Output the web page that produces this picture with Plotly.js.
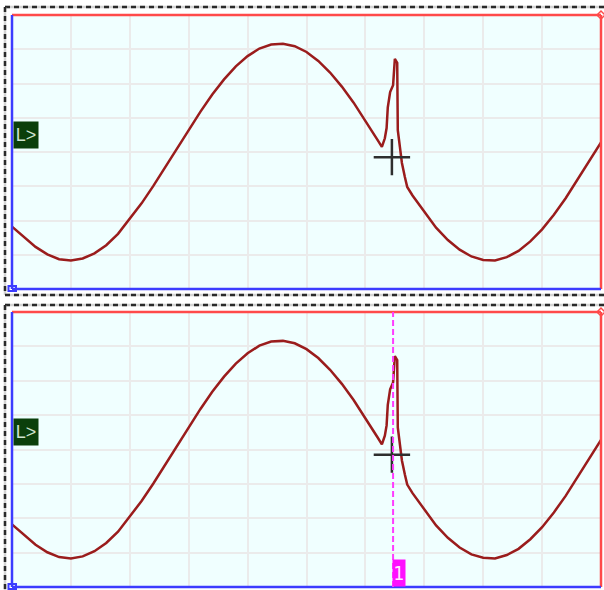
<!DOCTYPE html>
<html>
<head>
<meta charset="utf-8">
<script src="https://cdn.plot.ly/plotly-3.0.1.min.js"></script>
<style>html,body{margin:0;padding:0;background:#fff;}#chart{width:604px;height:590px;}</style>
</head>
<body>
<div id="chart"></div>
<script>
// ---- data (time in divisions, signal in divisions) ----
const timeDiv = [0,0.2,0.4,0.6,0.8,1.0,1.2,1.4,1.6,1.8,2.0,2.2,2.4,2.6,2.8,3.0,3.2,3.4,3.6,3.8,4.0,4.2,4.4,4.6,4.8,5.0,5.2,5.4,5.6,5.8,6.0,6.2,
  6.28,6.33,6.36,6.38,6.42,6.47,6.50,6.54,6.55,6.59,6.62,6.67,6.71,
  6.8,7.0,7.2,7.4,7.6,7.8,8.0,8.2,8.4,8.6,8.8,9.0,9.2,9.4,9.6,9.8,10.0];
const signalDiv = [-2.18,-2.47,-2.77,-2.99,-3.13,-3.17,-3.11,-2.96,-2.72,-2.39,-1.96,-1.50,-0.99,-0.45,0.10,0.65,1.18,1.68,2.12,2.50,2.80,3.02,3.14,3.16,3.09,2.92,2.66,2.32,1.91,1.44,0.92,0.37,
  0.15,0.40,0.70,1.30,1.75,1.95,2.72,2.60,0.64,0.06,-0.32,-0.73,-1.02,
  -1.27,-1.75,-2.21,-2.57,-2.85,-3.05,-3.15,-3.17,-3.07,-2.89,-2.61,-2.26,-1.83,-1.35,-0.82,-0.27,0.28];
const cursorTime = [6.45];
const cursorLevel = [-0.15];
const markerTime = [6.47];
const markerLabel = ["1"];
const levelValue = [0.5];
const levelLabel = ["L&gt;"];

// ---- geometry helpers (pixel -> paper) ----
const W = 604, H = 590;
const px = v => v / W;
const py = v => 1 - v / H;

const traceColor = '#9a1c1c';
const traces = [
  {x: timeDiv, y: signalDiv, xaxis: 'x', yaxis: 'y', mode: 'lines', line: {color: traceColor, width: 2.5}, hoverinfo: 'skip'},
  {x: timeDiv, y: signalDiv, xaxis: 'x2', yaxis: 'y2', mode: 'lines', line: {color: traceColor, width: 2.5}, hoverinfo: 'skip'},
  {x: cursorTime, y: cursorLevel, xaxis: 'x', yaxis: 'y', mode: 'markers', marker: {symbol: 'cross-thin', size: 26, line: {color: '#2e2e2e', width: 2.5}}},
  {x: cursorTime, y: cursorLevel, xaxis: 'x2', yaxis: 'y2', mode: 'markers', marker: {symbol: 'cross-thin', size: 26, line: {color: '#2e2e2e', width: 2.5}}}
];

const gridStyle = {showgrid: true, gridcolor: '#ebebeb', gridwidth: 2, zeroline: false, showline: false, showticklabels: false, ticks: ''};
const layout = {
  width: W, height: H,
  margin: {l: 0, r: 0, t: 0, b: 0},
  paper_bgcolor: '#ffffff',
  plot_bgcolor: '#f0ffff',
  showlegend: false,
  xaxis: Object.assign({domain: [px(12), px(601)], range: [0, 10], dtick: 1, tick0: 0, anchor: 'y'}, gridStyle),
  yaxis: Object.assign({domain: [py(289), py(15)], range: [-4, 4], dtick: 1, tick0: 0, anchor: 'x'}, gridStyle),
  xaxis2: Object.assign({domain: [px(12), px(601)], range: [0, 10], dtick: 1, tick0: 0, anchor: 'y2'}, gridStyle),
  yaxis2: Object.assign({domain: [py(587), py(312)], range: [-4, 4], dtick: 1, tick0: 0, anchor: 'x2'}, gridStyle),
  shapes: [],
  annotations: []
};

// panel frames
[['x', 'y'], ['x2', 'y2']].forEach(([xa, ya]) => {
  const xr = xa + ' domain', yr = ya + ' domain';
  layout.shapes.push(
    {type: 'line', xref: xr, yref: yr, x0: 0, x1: 1, y0: 1, y1: 1, line: {color: '#ff4a4a', width: 2.5}, layer: 'above'},
    {type: 'line', xref: xr, yref: yr, x0: 1, x1: 1, y0: 0, y1: 1, line: {color: '#ff4a4a', width: 2.5}, layer: 'above'},
    {type: 'line', xref: xr, yref: yr, x0: 0, x1: 1, y0: 0, y1: 0, line: {color: '#3c3cff', width: 2.5}, layer: 'above'},
    {type: 'line', xref: xr, yref: yr, x0: 0, x1: 0, y0: 0, y1: 1, line: {color: '#3c3cff', width: 2.5}, layer: 'above'}
  );
});

// dashed selection frames
function dashedLine(x0, y0, x1, y1) {
  layout.shapes.push({type: 'line', xref: 'paper', yref: 'paper', x0: px(x0), x1: px(x1), y0: py(y0), y1: py(y1), line: {color: '#d4d4d4', width: 2.5}});
  layout.shapes.push({type: 'line', xref: 'paper', yref: 'paper', x0: px(x0), x1: px(x1), y0: py(y0), y1: py(y1), line: {color: '#2a2a2a', width: 2.5, dash: '5px,4px'}});
}
dashedLine(5, 7, 612, 7);
dashedLine(5, 7, 5, 295);
dashedLine(5, 295, 612, 295);
dashedLine(5, 305, 612, 305);
dashedLine(5, 305, 5, 600);

// corner markers
[289, 587].forEach(yb => {
  layout.shapes.push({type: 'rect', xref: 'paper', yref: 'paper', x0: px(8.5), x1: px(16), y0: py(yb + 2), y1: py(yb - 3), line: {color: '#3c3cff', width: 2}, layer: 'above'});
});
[15, 312].forEach(yt => {
  layout.shapes.push({type: 'path', xref: 'paper', yref: 'paper',
    path: `M ${px(597)} ${py(yt)} L ${px(601)} ${py(yt - 4)} L ${px(605)} ${py(yt)} L ${px(601)} ${py(yt + 4)} Z`,
    line: {color: '#ff4a4a', width: 1.5}, layer: 'above'});
});

// marker line in lower panel
markerTime.forEach((t, i) => {
  layout.shapes.push({type: 'line', xref: 'x2', yref: 'y2 domain', x0: t, x1: t, y0: 0, y1: 1, line: {color: '#ff3cff', width: 2, dash: '6px,3px'}, layer: 'above'});
  layout.annotations.push({xref: 'x2', yref: 'y2 domain', x: t, y: 0, xanchor: 'left', yanchor: 'bottom', text: markerLabel[i],
    showarrow: false, bgcolor: '#ff10ff', width: 12, height: 26, borderpad: 0, xshift: -1,
    font: {family: 'DejaVu Sans Condensed, DejaVu Sans', size: 19, color: '#ffe8ff'}});
});

// level markers
[['x', 'y'], ['x2', 'y2']].forEach(([xa, ya]) => {
  layout.annotations.push({xref: xa + ' domain', yref: ya, x: 0, y: levelValue[0], xanchor: 'left', yanchor: 'middle', text: levelLabel[0],
    showarrow: false, bgcolor: '#0b3f0b', width: 24, height: 26, borderpad: 0, xshift: 1,
    font: {family: 'Liberation Sans, Arial', size: 18, color: '#cfe3cf'}});
});

Plotly.newPlot('chart', traces, layout, {staticPlot: true, displayModeBar: false});
</script>
</body>
</html>
